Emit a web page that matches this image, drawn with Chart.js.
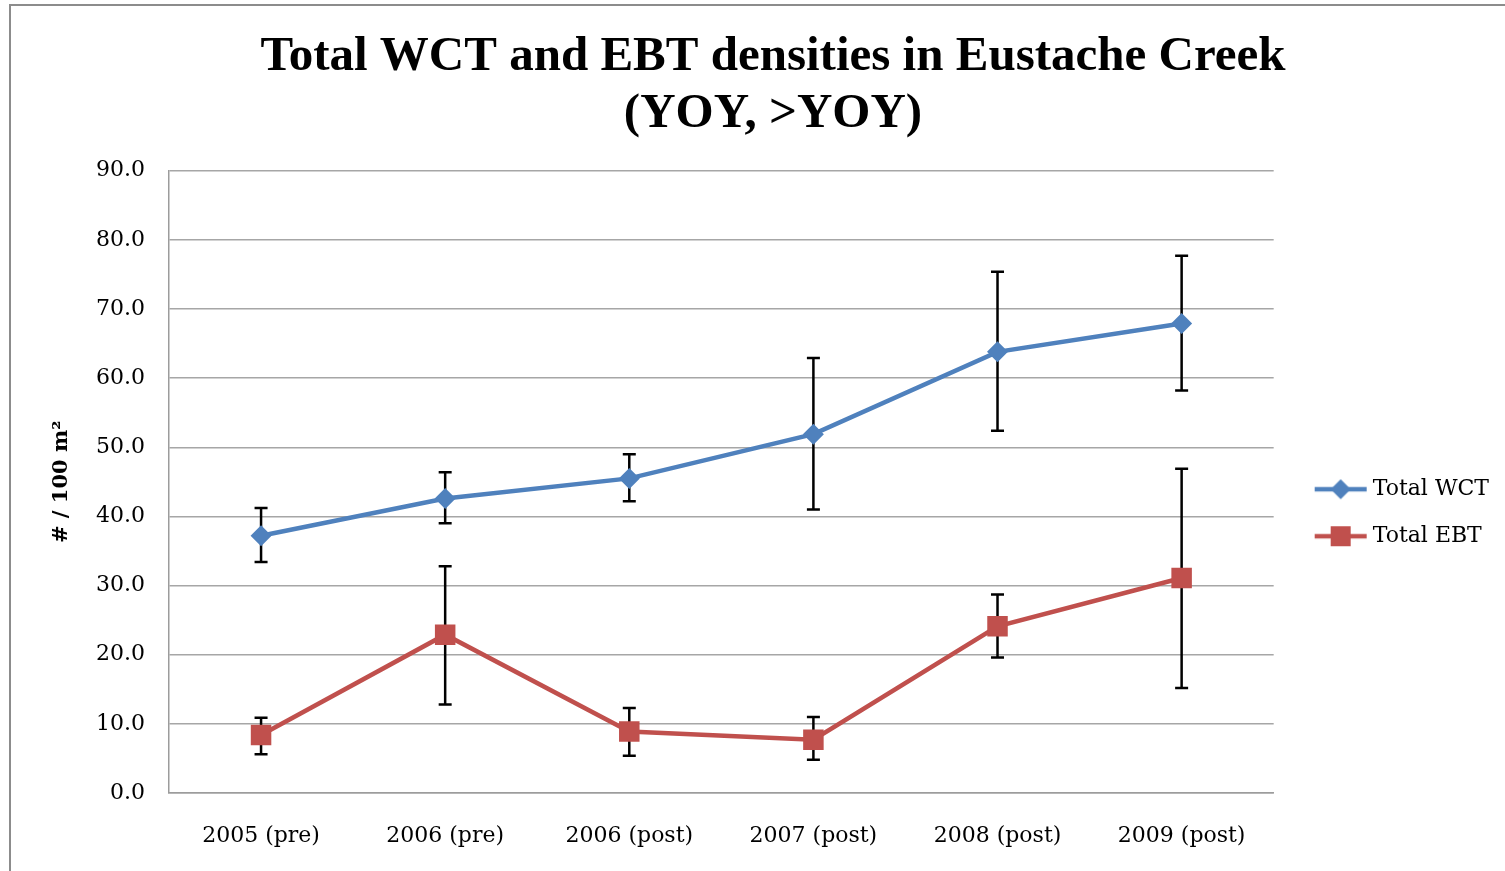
<!DOCTYPE html>
<html>
<head>
<meta charset="utf-8">
<script src="https://cdn.jsdelivr.net/npm/chart.js@4/dist/chart.umd.min.js"></script>
<style>
	html, body { margin: 0; padding: 0; background: #fff; }
	#wrap { position: relative; width: 1505px; height: 871px; overflow: hidden; }
	#frame { position: absolute; left: 9px; top: 4px; width: 1520px; height: 900px; border: 2px solid #8c8c8c; box-sizing: border-box; }
	#c { position: absolute; left: 0; top: 0; }
</style>
</head>
<body>
<div id="wrap">
	<div id="frame"></div>
	<canvas id="c" width="1505" height="871"></canvas>
</div>
<script>
;(function (window, document, undefined) {
	'use strict';

	// values
	var categories	= ['2005 (pre)', '2006 (pre)', '2006 (post)', '2007 (post)', '2008 (post)', '2009 (post)'];
	var wct			= [37.2, 42.6, 45.5, 51.9, 63.8, 67.9];
	var wctHi		= [41.2, 46.4, 49.0, 62.9, 75.4, 77.7];
	var wctLo		= [33.4, 39.0, 42.2, 41.0, 52.4, 58.2];
	var ebt			= [8.4, 22.9, 8.9, 7.7, 24.1, 31.1];
	var ebtHi		= [10.9, 32.8, 12.3, 11.0, 28.7, 46.9];
	var ebtLo		= [5.6, 12.8, 5.4, 4.8, 19.6, 15.2];
	var yTicks		= [0, 10, 20, 30, 40, 50, 60, 70, 80, 90];

	var BLUE	= '#4f81bd',
		RED		= '#c0504d',
		SERIF	= '"DejaVu Serif", serif';

	// legend swatch: short line with the marker on top
	function swatch(color, shape) {
		let cv = document.createElement('canvas');
		cv.width = 54;
		cv.height = 24;
		let g = cv.getContext('2d');
		g.strokeStyle = color;
		g.lineWidth = 4.5;
		g.beginPath();
		g.moveTo(1, 12);
		g.lineTo(53, 12);
		g.stroke();
		g.fillStyle = color;
		if (shape === 'diamond') {
			g.beginPath();
			g.moveTo(27, 2);
			g.lineTo(37, 12);
			g.lineTo(27, 22);
			g.lineTo(17, 12);
			g.closePath();
			g.fill();
		} else {
			g.fillRect(17, 2, 20, 20);
		}
		return cv;
	}

	var errorBars = {
		id: 'errorBars',
		beforeDatasetsDraw: function (chart) {
			let ctx = chart.ctx;
			let y = chart.scales.y;
			ctx.save();
			ctx.strokeStyle = '#000';
			ctx.lineWidth = 2.5;
			chart.data.datasets.forEach(function (ds, di) {
				let meta = chart.getDatasetMeta(di);
				meta.data.forEach(function (pt, i) {
					let top = y.getPixelForValue(ds.hi[i]);
					let bot = y.getPixelForValue(ds.lo[i]);
					ctx.beginPath();
					ctx.moveTo(pt.x, top);
					ctx.lineTo(pt.x, bot);
					ctx.moveTo(pt.x - 6.5, top);
					ctx.lineTo(pt.x + 6.5, top);
					ctx.moveTo(pt.x - 6.5, bot);
					ctx.lineTo(pt.x + 6.5, bot);
					ctx.stroke();
				});
			});
			ctx.restore();
		}
	};

	new Chart(document.getElementById('c'), {
		type: 'line',
		data: {
			labels: categories,
			datasets: [{
				label: 'Total WCT',
				data: wct,
				hi: wctHi,
				lo: wctLo,
				borderColor: BLUE,
				backgroundColor: BLUE,
				borderWidth: 4.5,
				pointStyle: 'rectRot',
				pointRadius: 10.5,
				pointBorderWidth: 0,
				legendSwatch: swatch(BLUE, 'diamond')
			}, {
				label: 'Total EBT',
				data: ebt,
				hi: ebtHi,
				lo: ebtLo,
				borderColor: RED,
				backgroundColor: RED,
				borderWidth: 4.5,
				pointStyle: 'rect',
				pointRadius: 14.5,
				pointBorderWidth: 0,
				legendSwatch: swatch(RED, 'square')
			}]
		},
		plugins: [errorBars],
		options: {
			responsive: false,
			animation: false,
			layout: { padding: { left: 47, right: 6, top: 0, bottom: 0 } },
			plugins: {
				tooltip: { enabled: false },
				title: {
					display: true,
					text: ['Total WCT and EBT densities in Eustache Creek', '(YOY, >YOY)'],
					color: '#000',
					font: { family: '"Liberation Serif", serif', size: 49, weight: 'bold', lineHeight: 1.16 },
					padding: { top: 29, bottom: 28 }
				},
				legend: {
					position: 'right',
					title: { display: true, text: '', padding: { top: 140, bottom: 0 } },
					labels: {
						color: '#000',
						font: { family: SERIF, size: 22 },
						usePointStyle: true,
						pointStyleWidth: 42,
						boxHeight: 22,
						padding: 25,
						generateLabels: function (chart) {
							return chart.data.datasets.map(function (ds, i) {
								return {
									text: ds.label,
									pointStyle: ds.legendSwatch,
									fontColor: '#000',
									lineWidth: 0,
									strokeStyle: 'transparent',
									fillStyle: ds.borderColor,
									datasetIndex: i
								};
							});
						}
					}
				}
			},
			scales: {
				x: {
					offset: true,
					grid: { display: false, drawTicks: false },
					border: { display: true, color: '#9c9c9c', width: 1.5 },
					ticks: { color: '#000', font: { family: SERIF, size: 22 }, padding: 30, maxRotation: 0 },
					afterFit: function (scale) { scale.height = 78; }
				},
				y: {
					min: 0,
					max: 90,
					afterBuildTicks: function (scale) {
						scale.ticks = yTicks.map(function (v) { return { value: v }; });
					},
					grid: { color: '#a6a6a6', lineWidth: 1.5, drawTicks: false },
					border: { display: true, color: '#9c9c9c', width: 1.5 },
					ticks: {
						color: '#000',
						font: { family: SERIF, size: 22 },
						padding: 24,
						callback: function (v) { return Number(v).toFixed(1); }
					},
					title: {
						display: true,
						text: '# / 100 m²',
						color: '#000',
						font: { family: SERIF, size: 21, weight: 'bold' },
						padding: { top: 2, bottom: 0 }
					},
					afterFit: function (scale) { scale.width = 122; }
				},
				// empty spacer between the plot and the legend
				gap: {
					type: 'linear',
					position: 'right',
					display: true,
					grid: { display: false, drawTicks: false },
					border: { display: false },
					ticks: { display: false },
					afterFit: function (scale) { scale.width = 21; }
				}
			}
		}
	});

})(window, document);
</script>
</body>
</html>
